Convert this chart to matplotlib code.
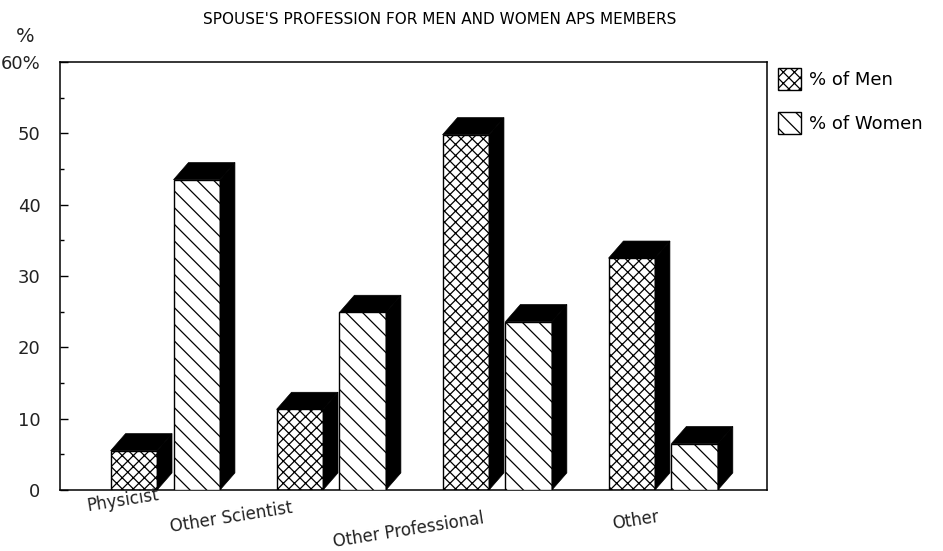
import matplotlib
matplotlib.use('Agg')
import matplotlib.pyplot as plt
import numpy as np
from matplotlib.patches import Polygon, Patch

categories = ["Physicist", "Other Scientist", "Other Professional", "Other"]
men = [5.5, 11.3, 49.8, 32.5]
women = [43.5, 24.9, 23.6, 6.5]
yticks = [0, 10, 20, 30, 40, 50, 60]
yticklabels = ["0", "10", "20", "30", "40", "50", "60%"]
series_labels = ["% of Men", "% of Women"]
title = "SPOUSE'S PROFESSION FOR MEN AND WOMEN APS MEMBERS"

# label placement offsets (layout only)
label_dx = [-0.25, -0.60, -0.53, -0.16]
label_y = [-0.025, -0.065, -0.094, -0.072]

plt.rcParams['hatch.linewidth'] = 0.9
fig = plt.figure(figsize=(9.43, 5.51), dpi=100)
ax = fig.add_axes([60 / 943, 61 / 551, 707 / 943, 428 / 551])
x = np.arange(len(categories))
W = 0.28
DX, DY = 0.09, 2.4
ax.set_xlim(-0.63, 3.63)
ax.set_ylim(0, 60)


def bar3d(bars, z):
    for b in bars:
        x0 = b.get_x(); w = b.get_width(); h = b.get_height()
        side = Polygon([(x0 + w, 0), (x0 + w, h), (x0 + w + DX, h + DY), (x0 + w + DX, DY)],
                       closed=True, fc='black', ec='black', lw=0.5, zorder=z)
        top = Polygon([(x0, h), (x0 + DX, h + DY), (x0 + w + DX, h + DY), (x0 + w, h)],
                      closed=True, fc='black', ec='black', lw=0.5, zorder=z)
        ax.add_patch(side)
        ax.add_patch(top)


bm = ax.bar(x - 0.325, men, width=W, align='edge', fc='white', ec='black', lw=1.0,
            hatch='xxx', zorder=2)
bar3d(bm, 3)
bw = ax.bar(x + 0.054, women, width=W, align='edge', fc='white', ec='black', lw=1.0,
            hatch='\\\\', zorder=4)
bar3d(bw, 5)

ax.set_yticks(yticks)
ax.set_yticklabels(yticklabels, fontsize=13, color='#222222')
ax.set_yticks(np.arange(5, 60, 10), minor=True)
ax.tick_params(axis='y', which='major', direction='in', length=6, width=1, pad=14)
ax.tick_params(axis='y', which='minor', direction='in', length=3, width=1)
ax.set_xticks([])
for s in ax.spines.values():
    s.set_linewidth(1.1)

for i, c in enumerate(categories):
    ax.text(x[i] + label_dx[i], label_y[i], c, transform=ax.get_xaxis_transform(),
            ha='center', va='center', rotation=9, fontsize=12, color='#222222')

fig.text(440 / 943, 1 - 20 / 551, title, ha='center', va='center', fontsize=11,
         family=['Liberation Sans Narrow', 'DejaVu Sans Condensed', 'DejaVu Sans'])
fig.text(25 / 943, 1 - 36 / 551, "%", ha='center', va='center', fontsize=14, color='#222222')

handles = [Patch(fc='white', ec='black', hatch='xxx', lw=1.0),
           Patch(fc='white', ec='black', hatch='\\\\', lw=1.0)]
fig.legend(handles=handles, labels=series_labels, loc='upper left',
           bbox_to_anchor=(778 / 943, 1 - 68 / 551), frameon=False,
           handlelength=1.3, handleheight=1.5, labelspacing=1.2, fontsize=13,
           handletextpad=0.4, borderpad=0, borderaxespad=0)

fig.savefig('out.png', dpi=100)
